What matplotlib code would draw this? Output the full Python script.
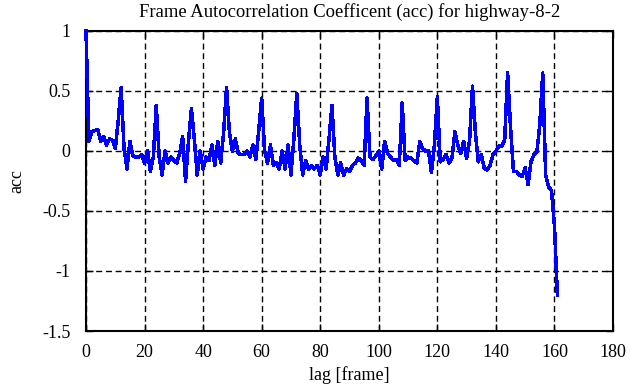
import numpy as np
import matplotlib.pyplot as plt

# autocorrelation values, lag 0..161
acc = [
    1.00, 0.08, 0.16, 0.17, 0.18, 0.08, 0.12, 0.05, 0.10, 0.09,
    0.02, 0.25, 0.53, 0.02, -0.15, 0.08, -0.04, -0.05, -0.05, -0.03,
    -0.10, 0.00, -0.17, -0.05, 0.38, -0.05, -0.20, 0.00, -0.10, -0.05,
    -0.08, -0.10, -0.02, 0.12, -0.25, 0.08, 0.35, 0.10, -0.20, 0.00,
    -0.15, -0.05, -0.08, 0.05, -0.12, 0.08, -0.10, 0.15, 0.53, 0.15,
    0.00, 0.10, -0.02, -0.03, -0.03, 0.00, -0.05, 0.05, -0.07, 0.17,
    0.44, 0.00, -0.10, 0.05, -0.12, -0.10, -0.15, 0.00, -0.15, 0.05,
    -0.20, 0.10, 0.48, 0.05, -0.20, -0.08, -0.15, -0.12, -0.15, -0.12,
    -0.20, -0.05, -0.15, 0.10, 0.38, -0.05, -0.20, -0.10, -0.20, -0.15,
    -0.17, -0.12, -0.10, -0.06, -0.08, -0.12, 0.44, -0.05, -0.07, -0.04,
    0.00, -0.15, 0.08, -0.02, -0.05, -0.08, -0.07, -0.12, 0.40, -0.08,
    -0.05, -0.06, -0.08, -0.10, 0.08, 0.02, 0.00, 0.00, -0.18, 0.05,
    0.45, -0.09, -0.07, -0.03, -0.10, -0.06, 0.16, 0.05, -0.02, 0.08,
    -0.06, 0.08, 0.54, 0.15, -0.09, -0.03, -0.14, -0.16, -0.12, -0.03,
    0.00, 0.04, 0.04, 0.09, 0.65, 0.20, -0.17, -0.17, -0.20, -0.21,
    -0.14, -0.28, -0.09, -0.03, -0.01, 0.22, 0.65, -0.20, -0.30, -0.33,
    -0.62, -1.20,
]
lag = np.arange(len(acc))

plt.rcParams.update({'font.family': 'Liberation Serif', 'font.size': 13})

fig = plt.figure(figsize=(6.3, 3.87), dpi=100)
ax = fig.add_axes([0.1365, 0.1447, 0.8365, 0.7753])

ax.plot(lag, acc, color='#0000ff', linewidth=1.8, antialiased=False,
        clip_on=False, zorder=3)

ax.set_xlim(0, 180)
ax.set_ylim(-1.5, 1)
ax.set_xticks(np.arange(0, 181, 20))
ax.set_yticks([-1.5, -1, -0.5, 0, 0.5, 1])
ax.set_yticklabels(['-1.5', '-1', '-0.5', '0', '0.5', '1'])
ax.grid(True, color='black', linestyle=(0, (4.3, 2.7)), linewidth=1.0)
ax.tick_params(direction='in', top=True, right=True, length=5, width=1)
ax.tick_params(axis='x', pad=9)
ax.tick_params(axis='y', pad=11)
for s in ax.spines.values():
    s.set_linewidth(1.5)

ax.set_title('Frame Autocorrelation Coefficent (acc) for highway-8-2', fontsize=13.4, pad=10)
ax.set_xlabel('lag [frame]', labelpad=4)
ax.set_ylabel('acc', labelpad=12)

fig.savefig('out.png', dpi=100)
